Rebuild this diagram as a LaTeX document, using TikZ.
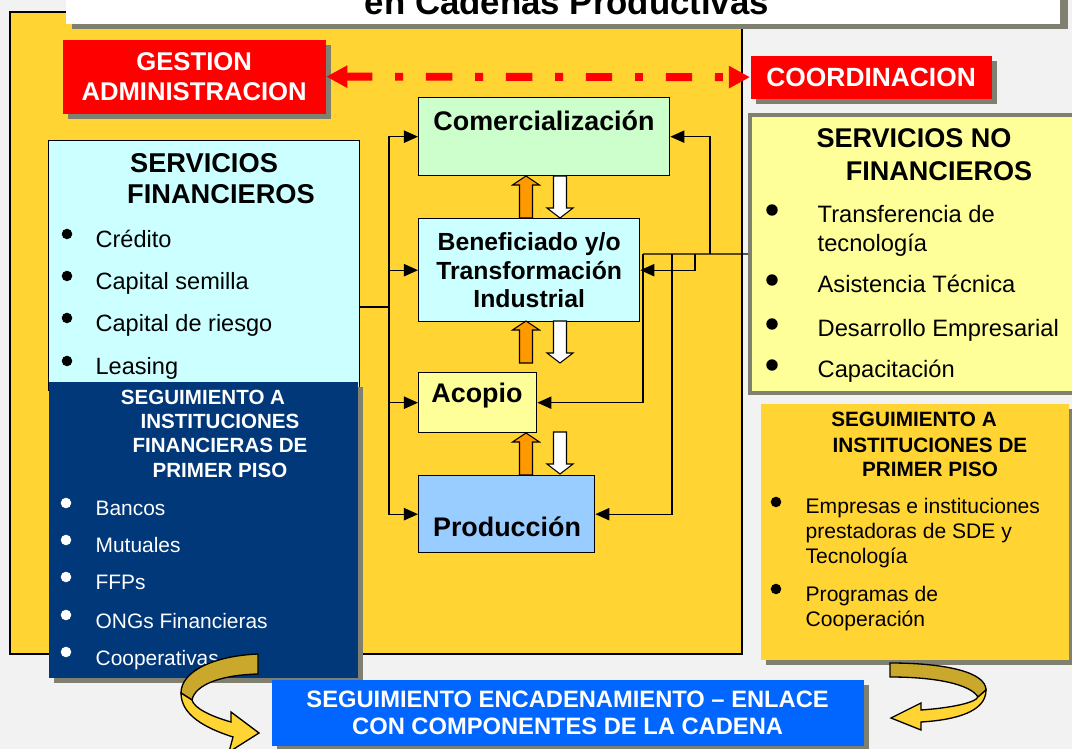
\documentclass[tikz,border=0pt]{standalone}
\usepackage{fontspec}
\setmainfont{Liberation Sans}
\usetikzlibrary{arrows.meta}
\usetikzlibrary{shadows}
\definecolor{bgGray}{RGB}{242,242,242}
\definecolor{panelYellow}{RGB}{255,212,51}
\definecolor{shadowGray}{RGB}{128,128,112}
\definecolor{sfCyan}{RGB}{204,255,255}
\definecolor{comGreen}{RGB}{204,255,204}
\definecolor{paleYellow}{RGB}{255,255,153}
\definecolor{prodBlue}{RGB}{153,204,255}
\definecolor{navyBlue}{RGB}{0,56,122}
\definecolor{linkBlue}{RGB}{0,102,255}
\definecolor{arrowOrange}{RGB}{255,153,0}
\definecolor{twistDark}{RGB}{201,168,44}
\tikzset{
	box/.style={draw,line width=0.8pt,inner sep=0pt,anchor=north west},
	shadowbox/.style={drop shadow={shadow xshift=0.1cm,shadow yshift=-0.1cm,fill=shadowGray,opacity=1}},
	redbox/.style={inner sep=0pt,anchor=north west,fill=red,shadowbox,text=white,align=center,
		font=\fontsize{14.6}{17.6}\selectfont\bfseries},
	ttl/.style={font=\fontsize{19.8}{22}\selectfont\bfseries,inner sep=0pt,anchor=base},
	chain/.style={font=\fontsize{15.3}{17}\selectfont\bfseries,inner sep=0pt,anchor=base},
	head/.style={font=\fontsize{#1}{#1}\selectfont\bfseries,inner sep=0pt,anchor=base},
	item/.style={font=\fontsize{#1}{#1}\selectfont,inner sep=0pt,anchor=base west},
	dot/.style={circle,fill=#1,inner sep=0pt,minimum size=6pt},
	upblock/.pic={\draw[fill=arrowOrange,line width=0.6pt] (-6.5,0) -- (-6.5,-33) -- (-13.5,-33) -- (0,-42) -- (13.5,-33) -- (6.5,-33) -- (6.5,0) -- cycle;},
	downblock/.pic={\draw[fill=white,line width=0.6pt] (-6.5,0) -- (-6.5,32) -- (-13,32) -- (0,42) -- (13,32) -- (6.5,32) -- (6.5,0) -- cycle;}
}
\begin{document}
\begin{tikzpicture}[x=0.02cm,y=-0.02cm,>={Triangle[length=8pt,width=7pt]},line width=0.75pt]
	\useasboundingbox (0,0) rectangle (1072,749);
	\fill[bgGray] (0,0) rectangle (1072,749);
	% panel and title
	\draw[fill=panelYellow,line width=0.8pt] (10,12) rectangle (742,654);
	\fill[shadowGray] (72,-10) rectangle (1068,29);
	\fill[white] (66,-10) rectangle (1060,24);
	\node[ttl] (title) at (567,15) {en Cadenas Productivas};
	% gestion <-> coordinacion
	\node[redbox,minimum width=5.26cm,minimum height=1.48cm] (gest) at (62,39) {GESTION\\ADMINISTRACION};
	\node[redbox,minimum width=4.82cm,minimum height=0.86cm,font=\fontsize{15}{17}\selectfont\bfseries] (coord) at (750,55) {COORDINACION};
	\draw[red,line width=4.5pt,dash pattern=on 15pt off 13pt on 4.5pt off 13pt,
		{Triangle[length=12pt,width=12pt]}-{Triangle[length=12pt,width=12pt]}] (gest.east) -- (coord.west);
	% chain boxes
	\node[box,fill=comGreen,minimum width=5.02cm,minimum height=1.56cm] (com) at (418,97) {};
	\node[chain] (comT) at (544,131) {Comercialización};
	\node[box,fill=sfCyan,minimum width=4.42cm,minimum height=2.06cm,align=center,
		font=\fontsize{14.1}{16.4}\selectfont\bfseries] (ben) at (418,218) {Beneficiado y/o\\Transformación\\Industrial};
	\node[box,fill=paleYellow,minimum width=2.36cm,minimum height=1.2cm] (aco) at (418,372) {};
	\node[chain] (acoT) at (477,403) {Acopio};
	\node[box,fill=prodBlue,minimum width=3.52cm,minimum height=1.54cm] (prod) at (418,475) {};
	\node[chain] (prodT) at (507,537) {Producción};
	\foreach \y in {218,363,475} \pic at (526,\y) {upblock};
	\foreach \y in {176,321,432} \pic at (560,\y) {downblock};
	% servicios financieros
	\node[box,fill=sfCyan,minimum width=6.22cm,minimum height=5cm] (sf) at (48,140) {};
	\node[head=15.5] (sfT1) at (204,173) {SERVICIOS};
	\node[head=15.5] (sfT2) at (221,204) {FINANCIEROS};
	\foreach \t/\y [count=\i] in {Crédito/248,Capital semilla/290,Capital de riesgo/332,Leasing/375}{
		\node[dot=black] (sfb\i) at (67,\y-14) {};
		\node[item=13.4] (sfi\i) at (95,\y) {\t};
	}
	% servicios no financieros
	\node[box,draw=shadowGray,line width=2.3pt,fill=paleYellow,minimum width=6.52cm,minimum height=5.56cm] (snf) at (748,113) {};
	\node[head=15.4] (snfT1) at (914,148) {SERVICIOS NO};
	\node[head=15.4] (snfT2) at (939,181) {FINANCIEROS};
	\foreach \t/\y [count=\i] in {Transferencia de/223,tecnología/252,Asistencia Técnica/293,Desarrollo Empresarial/337,Capacitación/378}
		\node[item=13.5] (snfi\i) at (817,\y) {\t};
	\foreach \y [count=\i] in {210,280,324,365}
		\node[dot=black,minimum size=6.5pt] (snfb\i) at (772,\y) {};
	% connectors
	\coordinate (lbus) at (389,307);
	\draw (sf.east |- lbus) -- (lbus);
	\draw[->] (lbus) |- (com.west);
	\draw[->] (lbus) |- (ben.west);
	\draw[->] (lbus) |- (aco.west);
	\draw[->] (lbus) |- (prod.west);
	\coordinate (rbus) at (643,254);
	\coordinate (rcom) at (710,254);
	\coordinate (rben) at (695,254);
	\coordinate (rprod) at (672,254);
	\draw (snf.west) -- (rbus);
	\draw[->] (rcom) |- (com.east);
	\draw[->] (rben) |- (ben.east);
	\draw[->] (rbus) |- (aco.east);
	\draw[->] (rprod) |- (prod.east);
	% instituciones financieras
	\node[box,draw=none,fill=navyBlue,shadowbox,minimum width=6.18cm,minimum height=5.92cm] (ifi) at (48,381) {};
	\foreach \t/\x/\y [count=\i] in {SEGUIMIENTO A/203/405,INSTITUCIONES/220/429,FINANCIERAS DE/220/453,PRIMER PISO/220/478}
		\node[head=11.7,text=white] (ifiT\i) at (\x,\y) {\t};
	\foreach \t/\y [count=\i] in {Bancos/516,Mutuales/553,FFPs/590,ONGs Financieras/628,Cooperativas/665}{
		\node[dot=white] (ifib\i) at (66,\y-13) {};
		\node[item=11.9,text=white] (ifii\i) at (95,\y) {\t};
	}
	% instituciones de primer piso
	\node[box,draw=none,fill=panelYellow,shadowbox,minimum width=6.16cm,minimum height=5.12cm] (ipp) at (760,403) {};
	\foreach \t/\x/\y [count=\i] in {SEGUIMIENTO A/914/427,INSTITUCIONES DE/930/453,PRIMER PISO/930/477}
		\node[head=11.8] (ippT\i) at (\x,\y) {\t};
	\foreach \t/\y [count=\i] in {Empresas e instituciones/514,prestadoras de SDE y/539,Tecnología/564,Programas de/602,Cooperación/626}
		\node[item=12] (ippi\i) at (805,\y) {\t};
	\node[dot=black] (ippb1) at (776,502) {};
	\node[dot=black] (ippb2) at (776,589) {};
	% enlace
	\node[box,draw=none,fill=linkBlue,shadowbox,minimum width=11.84cm,minimum height=1.32cm,text=white,align=center,
		font=\fontsize{13.5}{15.3}\selectfont\bfseries] (enl) at (271,679) {SEGUIMIENTO ENCADENAMIENTO – ENLACE\\CON COMPONENTES DE LA CADENA};
	% turning arrows
	\draw[fill=twistDark] (258,654) .. controls (212,656) and (181,672) .. (181,693) -- (192,700) .. controls (195,685) and (220,675) .. (258,674) -- cycle;
	\draw[fill=panelYellow] (181,693) .. controls (181,715) and (205,728) .. (233,737) -- (229,752) -- (259,733) -- (231,712) -- (231,722) .. controls (210,716) and (194,708) .. (192,700) -- cycle;
	\draw[fill=twistDark] (890,663) .. controls (945,663) and (986,672) .. (986,690) -- (978,697) .. controls (970,684) and (935,677) .. (890,677) -- cycle;
	\draw[fill=panelYellow] (986,690) .. controls (986,712) and (955,720) .. (921,722) -- (921,730) -- (891,718) -- (921,703) -- (921,710) .. controls (950,708) and (975,703) .. (978,697) -- cycle;
\end{tikzpicture}
\end{document}
